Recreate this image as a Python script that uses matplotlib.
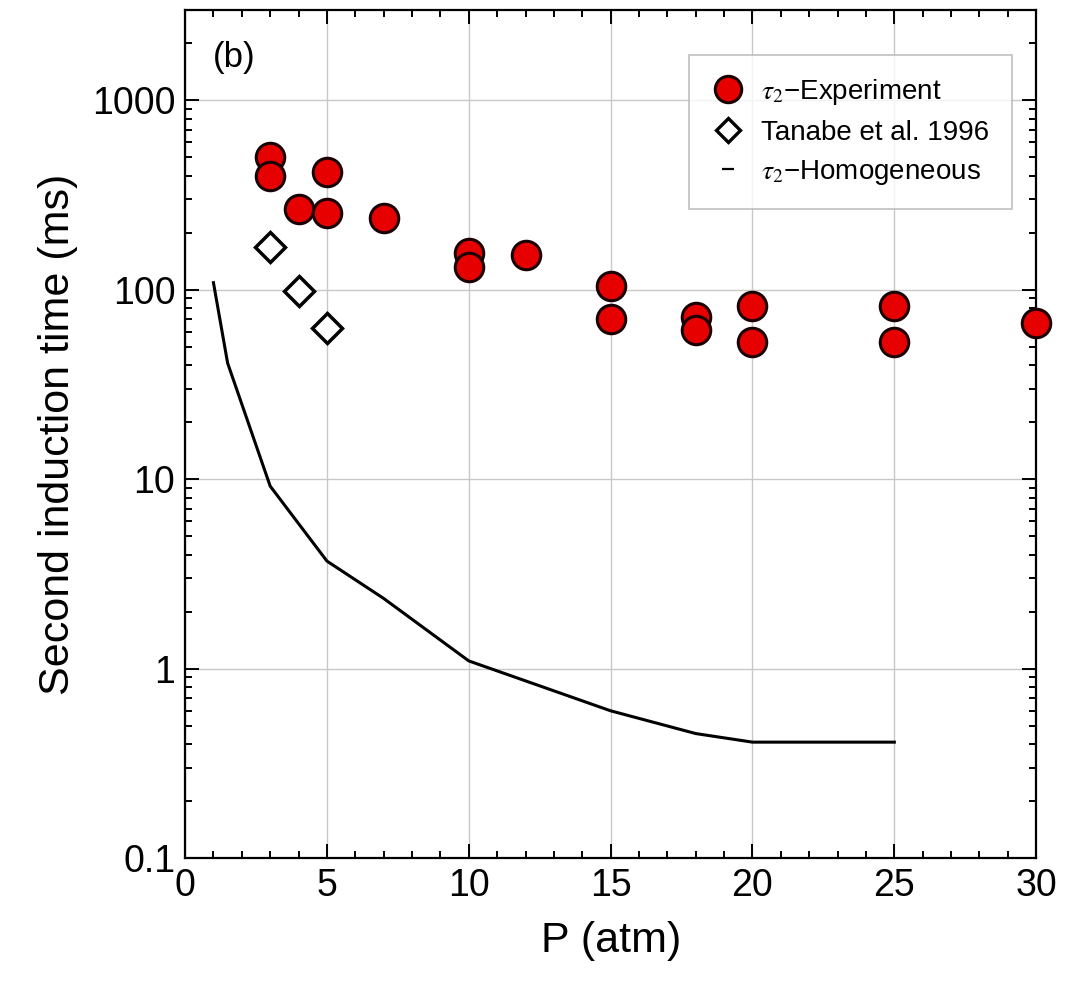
import matplotlib
matplotlib.use('Agg')
import matplotlib.pyplot as plt
from matplotlib.lines import Line2D
from matplotlib.ticker import LogLocator, MultipleLocator, FixedLocator, NullFormatter

plt.rcParams['font.family'] = ['Liberation Sans', 'DejaVu Sans']
plt.rcParams['mathtext.fontset'] = 'stix'

# tau2 experiment (ms)
exp_P = [3, 3, 4, 5, 5, 7, 10, 10, 12, 15, 15, 18, 18, 20, 20, 25, 25, 30]
exp_tau = [500, 400, 267, 418, 254, 239, 157, 132, 153, 105, 70, 72, 61, 82, 53, 82, 53, 67]

# Tanabe et al. 1996
tan_P = [3, 4, 5]
tan_tau = [168, 99, 63]

# homogeneous calculation
hom_P = [1, 1.5, 3, 5, 7, 10, 15, 18, 20, 25]
hom_tau = [109, 41, 9.2, 3.7, 2.35, 1.1, 0.6, 0.455, 0.41, 0.41]

fig = plt.figure(figsize = (10.76, 9.82), dpi = 100)
ax = fig.add_axes([0.172, 0.126, 0.791, 0.864])

ax.plot(hom_P, hom_tau, color = 'black', lw = 2.2, zorder = 2)
ax.plot(tan_P, tan_tau, ls = 'none', marker = 'D', ms = 15, mfc = 'white',
    mec = 'black', mew = 2.5, zorder = 3)
ax.plot(exp_P, exp_tau, ls = 'none', marker = 'o', ms = 20.5, mfc = '#e60000',
    mec = '#1a0000', mew = 2.2, zorder = 4, clip_on = False)

ax.set_yscale('log')
ax.set_xlim(0, 30)
ax.set_ylim(0.1, 3000)
ax.xaxis.set_major_locator(MultipleLocator(5))
ax.xaxis.set_minor_locator(MultipleLocator(1))
ax.yaxis.set_major_locator(FixedLocator([0.1, 1, 10, 100, 1000]))
ax.yaxis.set_minor_locator(LogLocator(base = 10, subs = range(2, 10)))
ax.yaxis.set_minor_formatter(NullFormatter())
ax.set_yticklabels(['0.1', '1', '10', '100', '1000'])

ax.grid(True, which = 'major', color = '#c8c8c8', lw = 1.0)
ax.tick_params(which = 'both', direction = 'in', top = True, right = True, labelsize = 27, width = 1.4)
ax.tick_params(which = 'major', length = 10, pad = 7)
ax.tick_params(which = 'minor', length = 5)
for s in ax.spines.values():
    s.set_linewidth(1.6)

ax.set_xlabel('P (atm)', fontsize = 31, labelpad = 12)
ax.set_ylabel('Second induction time (ms)', fontsize = 31, labelpad = 10)
ax.text(0.033, 0.963, '(b)', transform = ax.transAxes, fontsize = 25, va = 'top', ha = 'left')

handles = [
    Line2D([], [], ls = 'none', marker = 'o', ms = 19, mfc = '#e60000', mec = '#1a0000', mew = 2.2),
    Line2D([], [], ls = 'none', marker = 'D', ms = 12, mfc = 'white', mec = 'black', mew = 2.4),
    Line2D([], [], ls = 'none', marker = '_', ms = 8, mec = 'black', mew = 1.6),
]
labels = [r'$\tau_2$−Experiment', 'Tanabe et al. 1996', r'$\tau_2$−Homogeneous']
leg = ax.legend(handles, labels, loc = 'upper right', bbox_to_anchor = (0.971, 0.947),
    borderaxespad = 0, fontsize = 20, frameon = True, fancybox = False, edgecolor = '#b0b0b0',
    handlelength = 1.2, handletextpad = 0.6, borderpad = 0.8, labelspacing = 0.45)
leg.get_frame().set_linewidth(1.2)

fig.savefig('out.png', dpi = 100)
